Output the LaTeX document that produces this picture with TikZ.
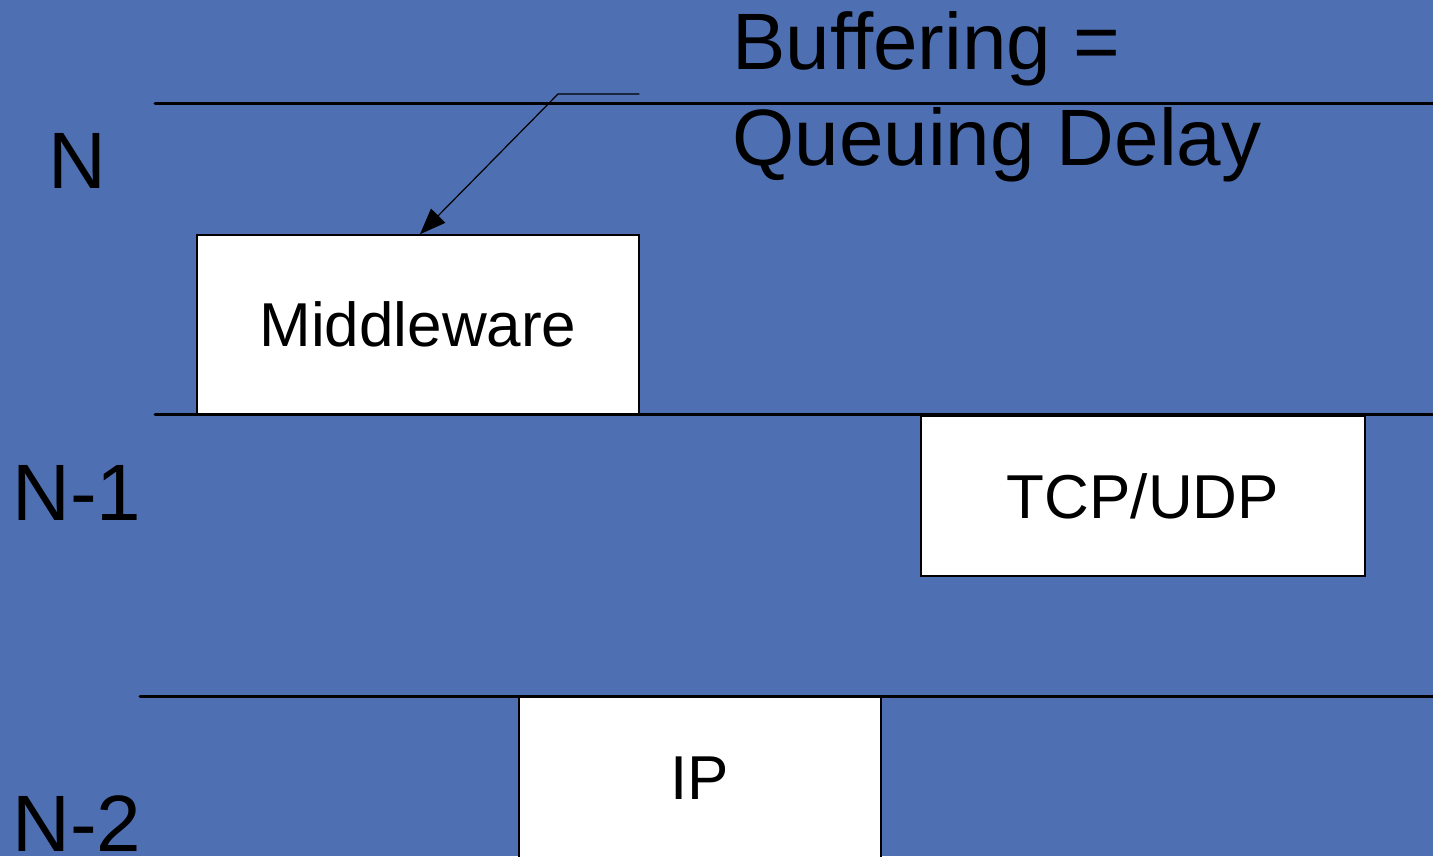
\documentclass[tikz,border=0pt]{standalone}
\usepackage{fontspec}
\setmainfont{Liberation Sans}
\usetikzlibrary{arrows.meta}
\definecolor{slideblue}{RGB}{78,112,178}

\begin{document}
\begin{tikzpicture}[x=0.5pt, y=-0.5pt, line cap=round,
	layerbox/.style={draw=black, line width=0.8pt, fill=white, inner sep=0pt,
		font=\fontsize{31}{37}\selectfont},
	layername/.style={anchor=base west, inner sep=0pt,
		font=\fontsize{40}{48}\selectfont},
	boundary/.style={line width=1.5pt}]

			% background
			\fill[slideblue] (0,0) rectangle (1433,856);
			\useasboundingbox (0,0) rectangle (1433,856);
			\clip (0,0) rectangle (1433,856);

			% layer boundaries
			\draw[boundary] (155,104) -- (1433,104);
			\draw[boundary] (155,414) -- (1433,414);
			\draw[boundary] (140,696) -- (1433,696);

			% layer names
			\node[layername] (ln) at (48,188) {N};
			\node[layername] (lnone) at (12,520) {N-1};
			\node[layername] (lntwo) at (12,851) {N-2};

			% protocols
			\node[layerbox, minimum width=221pt, minimum height=89.5pt]
				(mw) at (418,324.5) {Middleware};
			\node[layerbox, minimum width=222pt, minimum height=80pt]
				(tcp) at (1143,496) {TCP/UDP};
			\node[layerbox, minimum width=181pt, minimum height=81pt]
				(ip) at (700,778) {IP};

			% callout
			\node[layername] (buf) at (732,70) {Buffering =};
			\node[layername] (queue) at (732,165) {Queuing Delay};
			\coordinate (callout) at (639,94);
			\draw[-{Triangle[length=13pt,width=10pt]}, line width=0.6pt]
				(callout) -- (558,94) -- ([xshift=1pt]mw.north);

		\end{tikzpicture}
\end{document}
